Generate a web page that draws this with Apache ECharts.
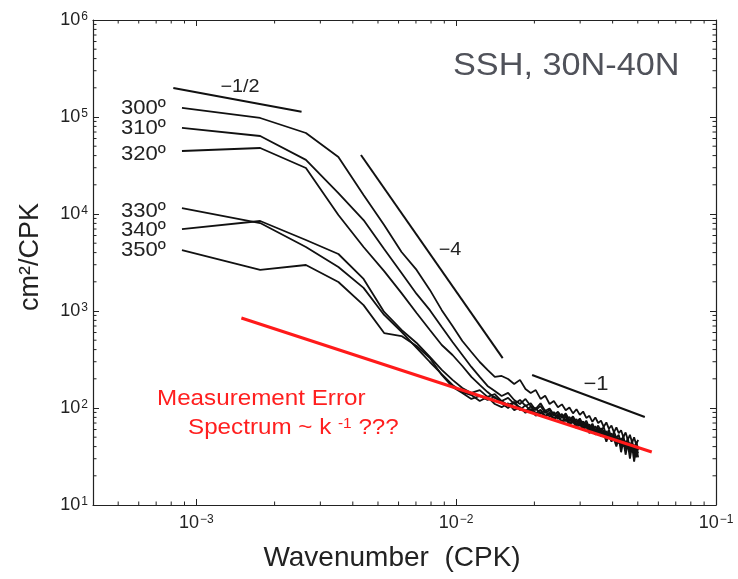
<!DOCTYPE html>
<html><head><meta charset="utf-8">
<script src="https://cdn.jsdelivr.net/npm/echarts@6/dist/echarts.min.js"></script>
<style>html,body{margin:0;padding:0;background:#fff}#c{width:738px;height:579px}</style>
</head><body><div id="c"></div>
<script>
// ---------- data ----------
const wavenumber = [0.00088,0.00176,0.00264,0.00352,0.0044,0.00528,0.00616,0.00704,0.00792,0.0088,
  0.00968,0.01056,0.01144,0.01232,0.0132,0.01408,0.01496,0.01584,0.01672,0.0176,
  0.01848,0.01936,0.02024,0.02112,0.022,0.02288,0.02376,0.02464,0.02552,0.0264,
  0.02728,0.02816,0.02904,0.02992,0.0308,0.03168,0.03256,0.03344,0.03432,0.0352,
  0.03608,0.03696,0.03784,0.03872,0.0396,0.04048,0.04136,0.04224,0.04312,0.044,
  0.04488,0.04576,0.04664,0.04752,0.0484,0.04928,0.05016];

const ssh300 = [124000,97700,68400,38700,15700,7710,4060,2650,1650,1020,
  700,491,378,298,247,209,214,199,177,195,
  157,143,153,124,134,110,118,102,109,95,
  101,88,97,85,92,79,83,72,80,70,
  74,64,71,61,66,56,63,55,59,50,
  56,47,53,44,50,42,47];
const ssh310 = [77100,63700,36100,16400,8670,4350,2460,1500,1020,684,
  479,352,265,209,169,150,133,143,121,110,
  124,105,98,112,93,99,85,91,80,88,
  75,82,71,78,67,74,62,69,58,66,
  57,64,51,60,47,57,49,53,41,52,
  39,50,36,47,33,45,38];
const ssh320 = [44600,47900,29800,9770,4570,2580,1530,953,637,446,
  352,271,209,173,146,127,118,107,115,100,
  93,104,88,96,83,90,78,86,72,82,
  69,76,66,73,61,68,58,65,54,61,
  51,58,48,55,45,52,43,49,40,47,
  38,45,35,43,33,41,31];
const ssh330 = [11500,8070,4570,2840,1730,910,608,416,298,224,
  173,146,136,118,130,110,102,112,95,102,
  89,98,83,91,81,87,75,83,70,77,
  67,73,62,70,59,65,55,62,53,58,
  52,55,45,53,46,48,40,49,35,46,
  33,43,30,41,28,38,34];
const ssh340 = [7000,8470,5400,3870,2140,977,637,468,336,247,
  195,161,143,153,130,139,118,127,110,121,
  105,112,95,105,89,95,83,91,79,85,
  73,79,68,75,64,70,61,67,57,62,
  54,59,50,57,48,53,45,49,43,48,
  40,46,37,44,35,42,37];
const ssh350 = [4250,2650,2980,1990,1150,593,552,436,328,219,
  165,143,124,133,121,130,112,100,115,95,
  107,93,100,87,95,81,91,77,87,73,
  81,70,77,65,73,62,68,58,65,55,
  62,51,58,49,55,46,51,43,49,40,
  46,38,44,35,42,31,39];

const curveNames = ['300º','310º','320º','330º','340º','350º'];

const slopeHalf = [[0.000815, 199000], [0.00254, 113000]];
const slopeFour = [[0.0043, 40600], [0.0151, 327]];
const slopeOne  = [[0.0196, 219], [0.0532, 80.7]];
const errorLine = [[0.00149, 847], [0.0566, 35.2]];

const xMinorTicks = [5e-4,6e-4,7e-4,8e-4,9e-4,
  2e-3,3e-3,4e-3,5e-3,6e-3,7e-3,8e-3,9e-3,
  2e-2,3e-2,4e-2,5e-2,6e-2,7e-2,8e-2,9e-2];
const yMinorTicks = [20,30,40,50,60,70,80,90,
  200,300,400,500,600,700,800,900,
  2000,3000,4000,5000,6000,7000,8000,9000,
  20000,30000,40000,50000,60000,70000,80000,90000,
  200000,300000,400000,500000,600000,700000,800000,900000];

const X_MIN = 0.0004, X_MAX = 0.1, Y_MIN = 10, Y_MAX = 1e6;

// ---------- chart ----------
const FONT = '"Liberation Sans", Arial, Helvetica, sans-serif';
const zip = (ys) => ys.map((v, i) => [wavenumber[i], v]);

function expLabel(v) {
  const e = Math.round(Math.log10(v));
  if (Math.abs(v / Math.pow(10, e) - 1) > 1e-6) return '';
  return '{b|10}{s|' + (e < 0 ? '\u2212' + (-e) : e) + '}';
}
const labelRich = {
  b: { fontSize: 18, fontFamily: FONT, color: '#222' },
  s: { fontSize: 12, fontFamily: FONT, color: '#222', verticalAlign: 'top', padding: [0, 0, 0, 1] }
};
const tickStyle = { show: true, inside: true, length: 6, lineStyle: { color: '#222', width: 1 } };
const axisLineStyle = { show: true, lineStyle: { color: '#222', width: 1.2 } };

function baseAxis(type, extra) {
  return Object.assign({
    type: 'log', logBase: 10,
    axisLine: axisLineStyle, axisTick: tickStyle,
    splitLine: { show: false }, minorTick: { show: false }
  }, extra);
}

const blackLine = (data, w) => ({
  type: 'line', data, showSymbol: false, symbol: 'none', silent: true,
  lineStyle: { color: '#111', width: w || 1.8 }, xAxisIndex: 0, yAxisIndex: 0, z: 3
});

const curves = [ssh300, ssh310, ssh320, ssh330, ssh340, ssh350].map(a => blackLine(zip(a), 1.8));

const minorX = {
  type: 'custom', xAxisIndex: 0, yAxisIndex: 0, silent: true, z: 5,
  data: xMinorTicks.map(v => [v, Y_MIN]),
  renderItem(params, api) {
    const v = api.value(0);
    const b = api.coord([v, Y_MIN]), t = api.coord([v, Y_MAX]);
    const st = { stroke: '#222', lineWidth: 1 };
    return { type: 'group', children: [
      { type: 'line', shape: { x1: b[0], y1: b[1], x2: b[0], y2: b[1] - 3.5 }, style: st },
      { type: 'line', shape: { x1: t[0], y1: t[1], x2: t[0], y2: t[1] + 3.5 }, style: st }
    ]};
  }
};
const minorY = {
  type: 'custom', xAxisIndex: 0, yAxisIndex: 0, silent: true, z: 5,
  data: yMinorTicks.map(v => [X_MIN, v]),
  renderItem(params, api) {
    const v = api.value(1);
    const l = api.coord([X_MIN, v]), r = api.coord([X_MAX, v]);
    const st = { stroke: '#222', lineWidth: 1 };
    return { type: 'group', children: [
      { type: 'line', shape: { x1: l[0], y1: l[1], x2: l[0] + 3.5, y2: l[1] }, style: st },
      { type: 'line', shape: { x1: r[0], y1: r[1], x2: r[0] - 3.5, y2: r[1] }, style: st }
    ]};
  }
};

function txt(x, y, text, size, opts) {
  opts = opts || {};
  return {
    type: 'text', x, y, rotation: opts.rotation || 0, scaleX: opts.scaleX || 1, z: 10, silent: true,
    style: Object.assign({
      text, x: 0, y: 0, fill: opts.color || '#222',
      font: size + 'px ' + FONT, align: opts.align || 'left', verticalAlign: 'middle'
    }, opts.style || {})
  };
}

const labelYs = [108, 128, 154, 211, 230, 250];
const graphics = [
  txt(453, 66, 'SSH, 30N-40N', 32, { color: '#50525a', scaleX: 1.07 }),
  txt(392, 558, 'Wavenumber  (CPK)', 28, { align: 'center' }),
  txt(31, 257, 'cm\u00b2/CPK', 27, { align: 'center', rotation: Math.PI / 2 }),
  txt(240, 87, '\u22121/2', 18, { align: 'center', scaleX: 1.1 }),
  txt(450, 250, '\u22124', 18, { align: 'center', scaleX: 1.1 }),
  txt(596, 384, '\u22121', 20, { align: 'center', scaleX: 1.1 }),
  txt(157, 399, 'Measurement Error', 22, { color: '#ff1f1f', scaleX: 1.1 }),
  txt(188, 428, '', 22, { color: '#ff1f1f', scaleX: 1.1, style: {
    text: '{a|Spectrum ~ k }{s|-1}{a| ???}',
    rich: {
      a: { fontSize: 22, fontFamily: FONT, fill: '#ff1f1f', color: '#ff1f1f' },
      s: { fontSize: 14, fontFamily: FONT, fill: '#ff1f1f', color: '#ff1f1f', verticalAlign: 'top' }
    }
  }})
].concat(curveNames.map((n, i) => txt(121, labelYs[i], n, 21, { scaleX: 1.05 })));

const option = {
  animation: false,
  backgroundColor: '#fff',
  grid: { left: 93, right: 22, top: 20, bottom: 74, containLabel: false },
  xAxis: [
    baseAxis('log', { position: 'bottom', min: X_MIN, max: X_MAX,
      axisLabel: { formatter: expLabel, rich: labelRich, margin: 9, showMinLabel: true, showMaxLabel: true } }),
    baseAxis('log', { position: 'top', min: X_MIN, max: X_MAX, axisLabel: { show: false } })
  ],
  yAxis: [
    baseAxis('log', { position: 'left', min: Y_MIN, max: Y_MAX,
      axisLabel: { formatter: expLabel, rich: labelRich, margin: 5, showMinLabel: true, showMaxLabel: true } }),
    baseAxis('log', { position: 'right', min: Y_MIN, max: Y_MAX, axisLabel: { show: false } })
  ],
  series: curves.concat([
    blackLine(slopeHalf, 2),
    blackLine(slopeFour, 2),
    blackLine(slopeOne, 2),
    { type: 'line', data: errorLine, showSymbol: false, symbol: 'none', silent: true,
      lineStyle: { color: '#ff1a1a', width: 3 }, z: 4 },
    minorX, minorY
  ]),
  graphic: graphics
};

const chart = echarts.init(document.getElementById('c'), null, { renderer: 'canvas' });
chart.setOption(option);
</script>
</body></html>
